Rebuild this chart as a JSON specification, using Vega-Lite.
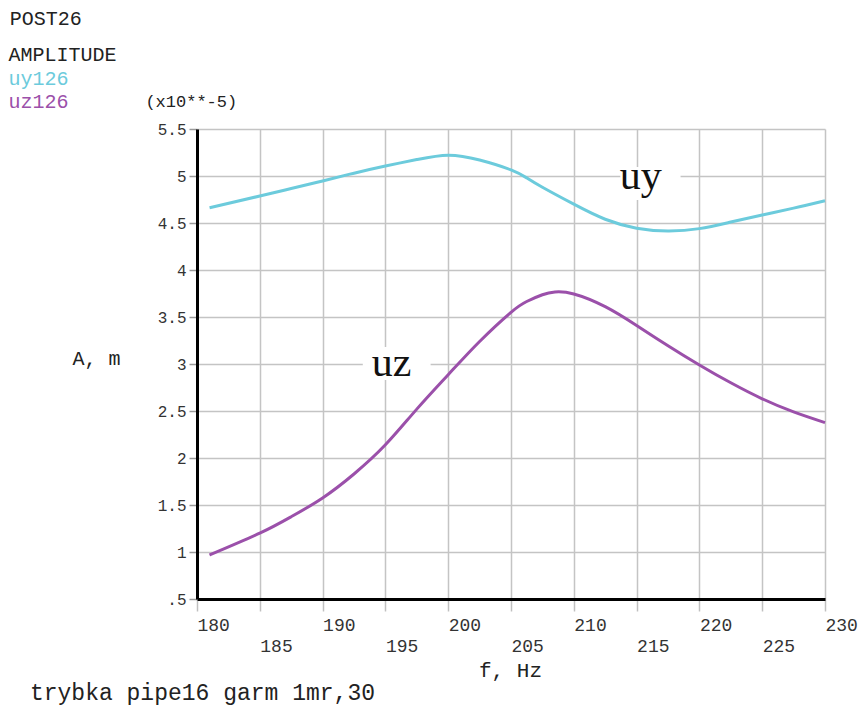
{
  "$schema": "https://vega.github.io/schema/vega-lite/v6.json",
  "width": 628,
  "height": 470,
  "autosize": {"type": "none"},
  "padding": {"left": 197, "top": 129, "right": 36, "bottom": 107},
  "background": "white",
  "config": {"view": {"stroke": null}, "font": "Liberation Mono"},
  "datasets": {
    "curves": [
      {"f": 181, "A": 4.663, "series": "uy"},
      {"f": 185, "A": 4.787, "series": "uy"},
      {"f": 187.5, "A": 4.867, "series": "uy"},
      {"f": 190, "A": 4.947, "series": "uy"},
      {"f": 192.5, "A": 5.03, "series": "uy"},
      {"f": 195, "A": 5.106, "series": "uy"},
      {"f": 197.5, "A": 5.175, "series": "uy"},
      {"f": 200, "A": 5.222, "series": "uy"},
      {"f": 202.5, "A": 5.17, "series": "uy"},
      {"f": 205, "A": 5.065, "series": "uy"},
      {"f": 206.25, "A": 4.98, "series": "uy"},
      {"f": 207.5, "A": 4.88, "series": "uy"},
      {"f": 210, "A": 4.7, "series": "uy"},
      {"f": 212.5, "A": 4.54, "series": "uy"},
      {"f": 215, "A": 4.445, "series": "uy"},
      {"f": 217.5, "A": 4.415, "series": "uy"},
      {"f": 220, "A": 4.44, "series": "uy"},
      {"f": 222.5, "A": 4.51, "series": "uy"},
      {"f": 225, "A": 4.585, "series": "uy"},
      {"f": 227.5, "A": 4.658, "series": "uy"},
      {"f": 230, "A": 4.737, "series": "uy"},
      {"f": 181, "A": 0.968, "series": "uz"},
      {"f": 185, "A": 1.2, "series": "uz"},
      {"f": 187.5, "A": 1.375, "series": "uz"},
      {"f": 190, "A": 1.575, "series": "uz"},
      {"f": 192.5, "A": 1.83, "series": "uz"},
      {"f": 195, "A": 2.14, "series": "uz"},
      {"f": 197.5, "A": 2.52, "series": "uz"},
      {"f": 200, "A": 2.886, "series": "uz"},
      {"f": 202.5, "A": 3.24, "series": "uz"},
      {"f": 205, "A": 3.55, "series": "uz"},
      {"f": 206.25, "A": 3.665, "series": "uz"},
      {"f": 207.5, "A": 3.737, "series": "uz"},
      {"f": 208.5, "A": 3.766, "series": "uz"},
      {"f": 210, "A": 3.745, "series": "uz"},
      {"f": 212.5, "A": 3.61, "series": "uz"},
      {"f": 215, "A": 3.41, "series": "uz"},
      {"f": 217.5, "A": 3.195, "series": "uz"},
      {"f": 220, "A": 2.99, "series": "uz"},
      {"f": 222.5, "A": 2.8, "series": "uz"},
      {"f": 225, "A": 2.63, "series": "uz"},
      {"f": 227.5, "A": 2.49, "series": "uz"},
      {"f": 230, "A": 2.376, "series": "uz"}
    ],
    "boxes": [
      {"f": 213.7, "f2": 218.5, "A": 4.745, "A2": 5.096},
      {"f": 193.2, "f2": 198.6, "A": 2.83, "A2": 3.18}
    ],
    "curveLabels": [
      {"f": 215.33, "A": 4.862, "label": "uy"},
      {"f": 195.49, "A": 2.872, "label": "uz"}
    ],
    "notes": [
      {"f": 165.1, "A": 6.665, "label": "POST26", "series": "note", "kind": "big"},
      {"f": 165.0, "A": 6.287, "label": "AMPLITUDE", "series": "note", "kind": "big"},
      {"f": 165.0, "A": 6.032, "label": "uy126", "series": "uy", "kind": "big"},
      {"f": 165.0, "A": 5.787, "label": "uz126", "series": "uz", "kind": "big"},
      {"f": 175.89, "A": 5.787, "label": "(x10**-5)", "series": "note", "kind": "small"},
      {"f": 166.7, "A": -0.5, "label": "trybka pipe16 garm 1mr,30", "series": "note", "kind": "foot"}
    ]
  },
  "encoding": {
    "x": {
      "field": "f",
      "type": "quantitative",
      "scale": {"domain": [180, 230], "nice": false, "zero": false},
      "axis": {
        "title": "f, Hz",
        "titleFont": "Liberation Mono",
        "titleFontSize": 21,
        "titleFontWeight": "normal",
        "titleColor": "#222",
        "titleX": 313,
        "titleY": 71,
        "titleAlign": "center",
        "titleBaseline": "middle",
        "values": [180, 185, 190, 195, 200, 205, 210, 215, 220, 225, 230],
        "labelAlign": "left",
        "labelBaseline": "middle",
        "labelFont": "Liberation Mono",
        "labelFontSize": 18,
        "labelColor": "#333",
        "labelFlush": false,
        "labelOverlap": false,
        "labelPadding": {"condition": {"test": "datum.value % 10 != 0", "value": 35}, "value": 14},
        "tickSize": 12,
        "tickColor": "#c0c0c0",
        "tickWidth": 1.5,
        "domainColor": "#000",
        "domainWidth": 3,
        "grid": true,
        "gridColor": "#c4c4c4",
        "gridWidth": 1.5
      }
    },
    "y": {
      "field": "A",
      "type": "quantitative",
      "scale": {"domain": [0.5, 5.5], "nice": false, "zero": false},
      "axis": {
        "title": "A, m",
        "titleFont": "Liberation Mono",
        "titleFontSize": 20,
        "titleFontWeight": "normal",
        "titleColor": "#222",
        "titleAngle": 0,
        "titleX": -101,
        "titleY": 229,
        "titleAlign": "center",
        "titleBaseline": "middle",
        "values": [0.5, 1, 1.5, 2, 2.5, 3, 3.5, 4, 4.5, 5, 5.5],
        "labelExpr": "datum.value == 0.5 ? '.5' : format(datum.value, '~g')",
        "labelFont": "Liberation Mono",
        "labelFontSize": 16,
        "labelColor": "#333",
        "labelPadding": 3,
        "labelFlush": false,
        "labelOverlap": false,
        "labelBaseline": "middle",
        "tickSize": 8,
        "tickColor": "#999",
        "tickWidth": 1.5,
        "domainColor": "#000",
        "domainWidth": 3,
        "grid": true,
        "gridColor": "#c4c4c4",
        "gridWidth": 1.5
      }
    }
  },
  "layer": [
    {
      "data": {"name": "boxes"},
      "mark": {"type": "rect", "fill": "white"},
      "encoding": {"x2": {"field": "f2"}, "y2": {"field": "A2"}}
    },
    {
      "data": {"name": "curves"},
      "mark": {"type": "line", "strokeWidth": 3, "interpolate": "natural"},
      "encoding": {
        "color": {
          "field": "series",
          "type": "nominal",
          "scale": {"domain": ["uy", "uz", "note"], "range": ["#6ccbdc", "#9b50aa", "#222222"]},
          "legend": null
        }
      }
    },
    {
      "data": {"name": "curveLabels"},
      "mark": {"type": "text", "font": "Liberation Serif", "fontSize": 42, "align": "center", "baseline": "alphabetic", "color": "#111"},
      "encoding": {"text": {"field": "label"}}
    },
    {
      "data": {"name": "notes"},
      "transform": [{"filter": "datum.kind == 'big'"}],
      "mark": {"type": "text", "font": "Liberation Mono", "fontSize": 20, "align": "left", "baseline": "middle"},
      "encoding": {
        "text": {"field": "label"},
        "color": {"field": "series", "type": "nominal", "legend": null}
      }
    },
    {
      "data": {"name": "notes"},
      "transform": [{"filter": "datum.kind == 'small'"}],
      "mark": {"type": "text", "font": "Liberation Mono", "fontSize": 17, "align": "left", "baseline": "middle"},
      "encoding": {
        "text": {"field": "label"},
        "color": {"field": "series", "type": "nominal", "legend": null}
      }
    },
    {
      "data": {"name": "notes"},
      "transform": [{"filter": "datum.kind == 'foot'"}],
      "mark": {"type": "text", "font": "Liberation Mono", "fontSize": 23, "align": "left", "baseline": "middle"},
      "encoding": {
        "text": {"field": "label"},
        "color": {"field": "series", "type": "nominal", "legend": null}
      }
    }
  ]
}
